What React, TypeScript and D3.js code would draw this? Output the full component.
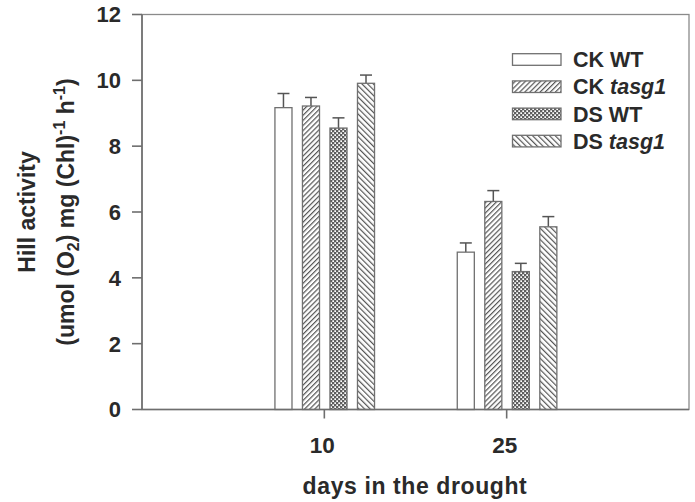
import React from "react";
import * as d3 from "d3";

const days = ["10", "25"];
const series = ["CK WT", "CK tasg1", "DS WT", "DS tasg1"];
const means = [
  [9.17, 4.78],
  [9.22, 6.32],
  [8.55, 4.19],
  [9.91, 5.55],
];
const errors = [
  [0.43, 0.28],
  [0.26, 0.33],
  [0.31, 0.25],
  [0.25, 0.31],
];
const yTicks = [0, 2, 4, 6, 8, 10, 12];

const W = 695;
const H = 502;
const left = 142;
const right = 689;
const top = 14.5;
const bottom = 409.5;

const FONT = "'Liberation Sans', Arial, Helvetica, sans-serif";
const TXT = "#2a2a2a";
const AX = "#6e6e6e";

export default function App() {
  const y = d3.scaleLinear().domain([0, 12]).range([bottom, top]);
  const x = d3.scaleLinear().domain([0, 3]).range([left, right]);
  const band = d3
    .scaleBand<number>()
    .domain([0, 1, 2, 3])
    .range([-49.4, 50.2])
    .paddingInner(0.38)
    .paddingOuter(0);
  const fills = ["#ffffff", "url(#pFwd)", "url(#pDots)", "url(#pBack)"];
  const bw = band.bandwidth();

  return (
    <svg
      width={W}
      height={H}
      style={{ position: "absolute", left: 0, top: 0, background: "#fff" }}
      fontFamily={FONT}
    >
      <defs>
        <pattern id="pFwd" patternUnits="userSpaceOnUse" width={3.6} height={3.6} patternTransform="rotate(45)">
          <rect width={3.6} height={3.6} fill="#fff" />
          <line x1={0.6} y1={0} x2={0.6} y2={3.6} stroke="#555" strokeWidth={1.2} />
        </pattern>
        <pattern id="pBack" patternUnits="userSpaceOnUse" width={4} height={4} patternTransform="rotate(-45)">
          <rect width={4} height={4} fill="#fff" />
          <line x1={0.6} y1={0} x2={0.6} y2={4} stroke="#555" strokeWidth={1.2} />
        </pattern>
        <pattern id="pDots" patternUnits="userSpaceOnUse" width={4} height={4}>
          <rect width={4} height={4} fill="#5e5e5e" />
          <rect x={0.3} y={0.3} width={1.7} height={1.7} fill="#fff" />
          <rect x={2.3} y={2.3} width={1.7} height={1.7} fill="#fff" />
        </pattern>
      </defs>

      {/* frame */}
      <rect x={left} y={top} width={right - left} height={bottom - top} fill="none" stroke="#8a8a8a" strokeWidth={1.3} />

      {/* bars */}
      {series.map((s, si) =>
        days.map((d, di) => {
          const cx = x(di + 1);
          const bx = cx + (band(si) as number);
          const yt = y(means[si][di]);
          const ye = y(means[si][di] + errors[si][di]);
          const mid = bx + bw / 2;
          return (
            <g key={s + d}>
              <line x1={mid} x2={mid} y1={yt} y2={ye} stroke="#555" strokeWidth={1.5} />
              <line x1={mid - 6} x2={mid + 6} y1={ye} y2={ye} stroke="#555" strokeWidth={1.5} />
              <rect x={bx} y={yt} width={bw} height={bottom - yt} fill={fills[si]} stroke="#707070" strokeWidth={1.3} />
            </g>
          );
        })
      )}

      {/* axes */}
      <line x1={left} x2={left} y1={top} y2={bottom} stroke={AX} strokeWidth={1.6} />
      <line x1={left} x2={right} y1={bottom} y2={bottom} stroke={AX} strokeWidth={1.6} />
      {yTicks.map((t) => (
        <g key={t}>
          <line x1={left - 10} x2={left} y1={y(t)} y2={y(t)} stroke={AX} strokeWidth={1.6} />
          <text x={121} y={y(t)} dy="0.36em" textAnchor="end" fontSize={22} fontWeight="bold" fill={TXT}>
            {t}
          </text>
        </g>
      ))}
      {days.map((d, i) => (
        <g key={d}>
          <line x1={x(i + 1)} x2={x(i + 1)} y1={bottom} y2={bottom + 9} stroke={AX} strokeWidth={1.6} />
          <text x={x(i + 1) - 2} y={453} textAnchor="middle" fontSize={22.5} fontWeight="bold" fill={TXT}>
            {d}
          </text>
        </g>
      ))}

      {/* axis titles */}
      <text x={415} y={494} textAnchor="middle" fontSize={23} fontWeight="bold" fill={TXT} letterSpacing={0.6}>
        days in the drought
      </text>
      <text transform={`translate(35,${(top + bottom) / 2}) rotate(-90)`} textAnchor="middle" fontSize={23} fontWeight="bold" fill={TXT}>
        Hill activity
      </text>
      <text transform={`translate(74,${(top + bottom) / 2}) rotate(-90)`} textAnchor="middle" fontSize={23} fontWeight="bold" fill={TXT}>
        (umol (O<tspan fontSize={16} dy={5}>2</tspan>
        <tspan dy={-5}>) mg (Chl)</tspan>
        <tspan fontSize={16} dy={-9}>-1</tspan>
        <tspan dy={9}> h</tspan>
        <tspan fontSize={16} dy={-9}>-1</tspan>
        <tspan dy={9}>)</tspan>
      </text>

      {/* legend */}
      {series.map((s, i) => {
        const cy = 59.5 + i * 27.2;
        const parts = s.split(" ");
        return (
          <g key={s}>
            <rect x={512.5} y={cy - 5.8} width={48.5} height={11.6} fill={fills[i]} stroke="#707070" strokeWidth={1.3} />
            <text x={573} y={cy + 7.6} fontSize={21.5} fontWeight="bold" fill={TXT}>
              {parts[0]}{" "}
              <tspan fontStyle={parts[1] === "WT" ? "normal" : "italic"}>{parts[1]}</tspan>
            </text>
          </g>
        );
      })}
    </svg>
  );
}
